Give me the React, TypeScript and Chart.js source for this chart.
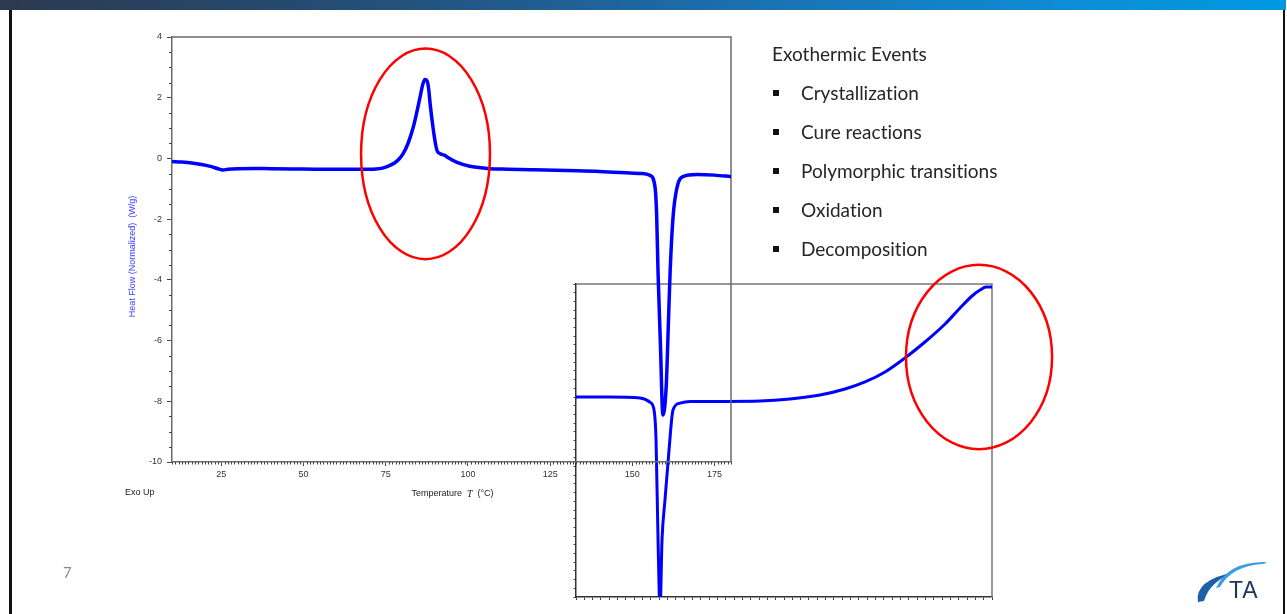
import React, { useEffect, useRef } from "react";
import { Chart, registerables } from "chart.js";

Chart.register(...registerables);

// ---------- Data ----------
// Main DSC curve: temperature (°C) vs heat flow (W/g)
const mainTemp = [
  10, 13, 16, 19, 22, 24, 25.5, 27, 30, 35, 40, 50, 60, 68, 72, 74, 76.3, 78.5, 80.3, 81.8,
  83.3, 84.4, 85.4, 86.3, 86.9, 87.6, 88.1, 88.5, 89.4, 90.1, 90.6, 91.3, 92.1, 93.0, 93.9,
  96.7, 100.6, 105.8, 110, 120, 130, 140, 149.3, 153, 155.4, 156.9, 157.4, 157.8, 158.5,
  159.3, 160.3, 161.0, 161.5, 162.4, 163.6, 165.4, 169.7, 175, 180,
];
const mainHeatFlow = [
  -0.1, -0.12, -0.15, -0.2, -0.27, -0.34, -0.38, -0.36, -0.34, -0.33, -0.34, -0.35, -0.36,
  -0.36, -0.35, -0.32, -0.23, -0.08, 0.16, 0.5, 1.0, 1.5, 2.0, 2.45, 2.6, 2.55, 2.25, 1.8,
  1.0, 0.5, 0.26, 0.17, 0.13, 0.1, 0.03, -0.13, -0.26, -0.33, -0.35, -0.37, -0.4, -0.43,
  -0.48, -0.5, -0.56, -0.95, -1.9, -3.7, -6.0, -8.45, -7.5, -5.3, -3.7, -1.9, -0.95, -0.6,
  -0.53, -0.55, -0.6,
];
const mainXTicks = [25, 50, 75, 100, 125, 150, 175];
const mainYTicks = [-10, -8, -6, -4, -2, 0, 2, 4];

// Inset curve (unlabelled axes, arbitrary units)
const insetX = [
  0, 20, 38.5, 44.5, 46.9, 48.1, 49.3, 50.5, 51.7, 53.5, 55.9, 58.3, 62.5, 68.5, 90, 110.6,
  128.6, 146.6, 161.7, 173.7, 185.7, 197.7, 209.7, 221.8, 230.8, 238.0, 242.8, 246.4, 250,
];
const insetY = [
  23.0, 23.0, 22.9, 22.4, 21.5, 18.1, 6.6, -1.5, 6.6, 11.2, 16.9, 21.5, 22.3, 22.5, 22.5,
  22.54, 22.77, 23.23, 23.92, 24.73, 25.88, 27.49, 29.33, 31.4, 33.24, 34.62, 35.3, 35.65,
  35.65,
];

// Highlight ellipses (data coordinates of their charts)
const mainEllipse = { cx: 87.1, cy: 0.15, rx: 19.6, ry: 3.47 };
const insetEllipse = { cx: 242.2, cy: 27.6, rx: 43.9, ry: 10.6 };

const bulletItems = [
  "Crystallization",
  "Cure reactions",
  "Polymorphic transitions",
  "Oxidation",
  "Decomposition",
];

const W = 1287;
const H = 614;
const AXIS = "#6b6b6b";
const TICKC = "#444";
const FONT = "'Liberation Sans', Arial, sans-serif";

function drawEllipse(chart: any, e: any, xs: any, ys: any) {
  const ctx = chart.ctx;
  const cx = xs.getPixelForValue(e.cx);
  const cy = ys.getPixelForValue(e.cy);
  const rx = Math.abs(xs.getPixelForValue(e.cx + e.rx) - cx);
  const ry = Math.abs(ys.getPixelForValue(e.cy + e.ry) - cy);
  ctx.save();
  ctx.strokeStyle = "#ff0000";
  ctx.lineWidth = 2.5;
  ctx.beginPath();
  ctx.ellipse(cx, cy, rx, ry, 0, 0, Math.PI * 2);
  ctx.stroke();
  ctx.restore();
}

const mainDecor = {
  id: "mainDecor",
  beforeDatasetsDraw(chart: any) {
    const { ctx, chartArea: a, scales } = chart;
    const x = scales.x;
    const y = scales.y;
    ctx.save();
    ctx.strokeStyle = AXIS;
    ctx.lineWidth = 1.5;
    ctx.beginPath();
    ctx.moveTo(a.left, a.top);
    ctx.lineTo(a.right, a.top);
    ctx.lineTo(a.right, a.bottom);
    ctx.stroke();
    // minor ticks
    ctx.strokeStyle = TICKC;
    ctx.lineWidth = 1;
    ctx.beginPath();
    for (let v = 10; v <= 180; v += 1) {
      if (v % 25 === 0) continue;
      const px = Math.round(x.getPixelForValue(v)) + 0.5;
      ctx.moveTo(px, a.bottom);
      ctx.lineTo(px, a.bottom + 2.5);
    }
    for (let v = -10; v <= 4; v += 0.5) {
      if (Math.abs(v % 2) < 1e-6) continue;
      const py = Math.round(y.getPixelForValue(v)) + 0.5;
      ctx.moveTo(a.left - 3, py);
      ctx.lineTo(a.left, py);
    }
    ctx.stroke();

    // axis titles
    ctx.fillStyle = "#3c3cff";
    ctx.font = `9px ${FONT}`;
    ctx.textAlign = "center";
    ctx.textBaseline = "middle";
    ctx.save();
    ctx.translate(133, (a.top + a.bottom) / 2 + 7);
    ctx.rotate(-Math.PI / 2);
    ctx.fillText("Heat Flow (Normalized)  (W/g)", 0, 0);
    ctx.restore();

    ctx.fillStyle = "#222";
    ctx.textAlign = "left";
    ctx.fillText("Exo Up", 125, 493);

    const p1 = "Temperature  ";
    const p2 = "T";
    const p3 = "  (°C)";
    ctx.font = `9px ${FONT}`;
    const w1 = ctx.measureText(p1).width;
    const w3 = ctx.measureText(p3).width;
    ctx.font = `italic 10px 'Liberation Serif', 'Times New Roman', serif`;
    const w2 = ctx.measureText(p2).width;
    const total = w1 + w2 + w3;
    let sx = (a.left + a.right) / 2 + 1 - total / 2;
    ctx.font = `9px ${FONT}`;
    ctx.fillText(p1, sx, 494);
    sx += w1;
    ctx.font = `italic 10px 'Liberation Serif', 'Times New Roman', serif`;
    ctx.fillText(p2, sx, 494);
    sx += w2;
    ctx.font = `9px ${FONT}`;
    ctx.fillText(p3, sx, 494);
    ctx.restore();
  },
  afterDraw(chart: any) {
    drawEllipse(chart, mainEllipse, chart.scales.x, chart.scales.y);
  },
};

const insetDecor = {
  id: "insetDecor",
  beforeDatasetsDraw(chart: any) {
    const { ctx, chartArea: a } = chart;
    ctx.save();
    ctx.strokeStyle = "#777";
    ctx.lineWidth = 1.5;
    ctx.beginPath();
    ctx.moveTo(a.left, a.top);
    ctx.lineTo(a.right, a.top);
    ctx.lineTo(a.right, a.bottom);
    ctx.stroke();
    ctx.restore();
  },
  afterDraw(chart: any) {
    drawEllipse(chart, insetEllipse, chart.scales.x, chart.scales.y);
  },
};

export default function App() {
  const mainRef = useRef<HTMLCanvasElement | null>(null);
  const insetRef = useRef<HTMLCanvasElement | null>(null);

  useEffect(() => {
    document.body.style.margin = "0";
    const tickFont = { family: FONT, size: 9 };

    const inset = new Chart(insetRef.current as HTMLCanvasElement, {
      type: "line",
      data: {
        datasets: [
          {
            data: insetX.map((v, i) => ({ x: v, y: insetY[i] })),
            borderColor: "#0000ff",
            borderWidth: 3,
            pointRadius: 0,
            cubicInterpolationMode: "monotone",
            fill: false,
          },
        ],
      },
      options: {
        responsive: false,
        animation: false,
        events: [],
        layout: { padding: { left: 0, top: 284, right: W - 992, bottom: H - 597 - 10 } },
        plugins: { legend: { display: false }, tooltip: { enabled: false } },
        scales: {
          x: {
            type: "linear",
            min: 0,
            max: 250,
            afterFit: (s: any) => {
              s.height = 10;
            },
            ticks: { display: false, stepSize: 5 },
            grid: { drawOnChartArea: false, drawTicks: true, tickLength: 3, color: "#444", lineWidth: 1 },
            border: { display: true, color: "#333", width: 1.5 },
          },
          y: {
            type: "linear",
            min: 0,
            max: 36,
            afterFit: (s: any) => {
              s.width = 576;
            },
            ticks: { display: false, stepSize: 1 },
            grid: { drawOnChartArea: false, drawTicks: true, tickLength: 2.5, color: "#444", lineWidth: 1 },
            border: { display: true, color: "#333", width: 1.5 },
          },
        },
      } as any,
      plugins: [insetDecor],
    });

    const main = new Chart(mainRef.current as HTMLCanvasElement, {
      type: "line",
      data: {
        datasets: [
          {
            data: mainTemp.map((t, i) => ({ x: t, y: mainHeatFlow[i] })),
            borderColor: "#0000ff",
            borderWidth: 3.5,
            pointRadius: 0,
            cubicInterpolationMode: "monotone",
            fill: false,
          },
        ],
      },
      options: {
        responsive: false,
        animation: false,
        events: [],
        layout: { padding: { left: 0, top: 37, right: W - 731, bottom: H - 462 - 40 } },
        plugins: { legend: { display: false }, tooltip: { enabled: false } },
        scales: {
          x: {
            type: "linear",
            min: 10,
            max: 180,
            afterBuildTicks: (s: any) => {
              s.ticks = mainXTicks.map((v) => ({ value: v }));
            },
            afterFit: (s: any) => {
              s.height = 40;
            },
            ticks: { color: "#333", font: tickFont, padding: 3, maxRotation: 0, autoSkip: false },
            grid: { drawOnChartArea: false, drawTicks: true, tickLength: 4, color: TICKC, lineWidth: 1 },
            border: { display: true, color: AXIS, width: 1.5 },
          },
          y: {
            type: "linear",
            min: -10,
            max: 4,
            afterBuildTicks: (s: any) => {
              s.ticks = mainYTicks.map((v) => ({ value: v }));
            },
            afterFit: (s: any) => {
              s.width = 172;
            },
            ticks: { color: "#333", font: tickFont, padding: 5, autoSkip: false },
            grid: { drawOnChartArea: false, drawTicks: true, tickLength: 5, color: TICKC, lineWidth: 1 },
            border: { display: true, color: AXIS, width: 1.5 },
          },
        },
      } as any,
      plugins: [mainDecor],
    });

    return () => {
      main.destroy();
      inset.destroy();
    };
  }, []);

  const textFont = "Lato, 'Open Sans', sans-serif";
  const textStyle: React.CSSProperties = {
    position: "absolute",
    height: 26,
    lineHeight: "26px",
    fontFamily: textFont,
    fontSize: 19,
    color: "#262626",
    whiteSpace: "nowrap",
    fontVariantLigatures: "none",
  };

  return (
    <div
      style={{
        position: "fixed",
        left: 0,
        top: 0,
        width: W,
        height: H,
        background: "#fff",
        overflow: "hidden",
      }}
    >
      {/* top bar */}
      <div
        style={{
          position: "absolute",
          left: 0,
          top: 0,
          width: 1286,
          height: 10,
          background: "linear-gradient(90deg, #2c394f 0%, #24507a 30%, #1a73b3 60%, #0c8fd8 85%, #0099e0 100%)",
        }}
      />
      {/* slide edges */}
      <div style={{ position: "absolute", left: 9, top: 10, width: 2.5, height: H - 10, background: "#111" }} />
      <div style={{ position: "absolute", left: 1283, top: 10, width: 2, height: H - 10, background: "#111" }} />

      <canvas ref={insetRef} width={W} height={H} style={{ position: "absolute", left: 0, top: 0 }} />
      <canvas ref={mainRef} width={W} height={H} style={{ position: "absolute", left: 0, top: 0 }} />

      {/* text block */}
      <div style={{ ...textStyle, left: 772, top: 54 - 13 }}>Exothermic Events</div>
      {bulletItems.map((t, i) => (
        <React.Fragment key={t}>
          <div
            style={{
              position: "absolute",
              left: 773,
              top: 93 + i * 39 - 3,
              width: 6,
              height: 6,
              background: "#111",
            }}
          />
          <div style={{ ...textStyle, left: 801, top: 93 + i * 39 - 13 }}>{t}</div>
        </React.Fragment>
      ))}

      {/* page number */}
      <div
        style={{
          position: "absolute",
          left: 63,
          top: 563,
          lineHeight: "18px",
          fontFamily: textFont,
          fontSize: 15,
          color: "#8a8a8a",
        }}
      >
        7
      </div>

      {/* TA logo */}
      <svg style={{ position: "absolute", left: 1180, top: 550 }} width={107} height={64}>
        <path d="M18 52 Q14 30 55 22 Q30 31 24 51 Z" fill="#1f5ea8" />
        <path d="M36 38 Q48 12 84 12 Q90 13 82 14 Q52 16 40 37 Z" fill="#3a9de0" />
      </svg>
      <div
        style={{
          position: "absolute",
          left: 1229,
          top: 577,
          lineHeight: "26px",
          fontFamily: "'Liberation Sans', Arial, sans-serif",
          fontSize: 23,
          color: "#1d3760",
          letterSpacing: 1,
        }}
      >
        TA
      </div>
    </div>
  );
}
